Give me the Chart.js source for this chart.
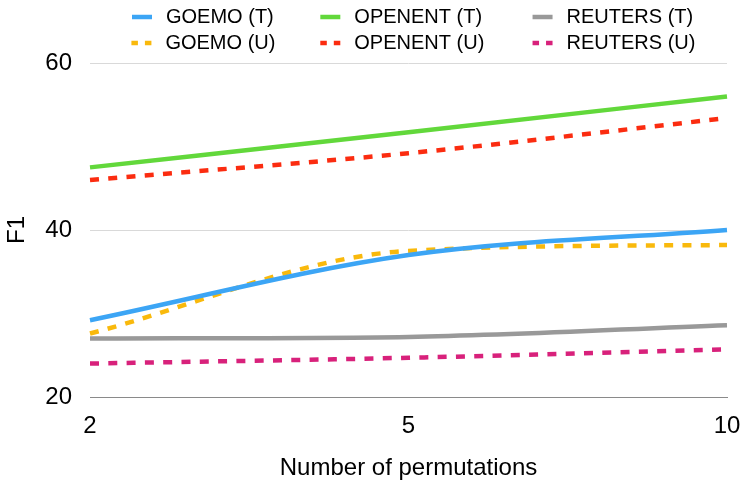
<!DOCTYPE html>
<html>
<head>
<meta charset="utf-8">
<script src="https://cdn.jsdelivr.net/npm/chart.js@4.4.0/dist/chart.umd.min.js"></script>
<style>
  html, body { margin: 0; padding: 0; background: #fff; }
  #wrap { width: 747px; height: 486px; }
</style>
</head>
<body>
<div id="wrap"><canvas id="chart" width="747" height="486"></canvas></div>
<script>
// x categories and F1 values
const permutations = ['2', '5', '10'];
const goemoT = [29.2, 37.0, 40.0];
const goemoU = [27.6, 37.5, 38.2];
const openentT = [47.5, 51.7, 56.0];
const openentU = [46.0, 49.2, 53.4];
const reutersT = [27.0, 27.2, 28.6];
const reutersU = [24.0, 24.7, 25.7];
const yTicks = [20, 40, 60];

const FONT = '"Liberation Sans", Arial, Helvetica, sans-serif';
const legendFont = { family: FONT, size: 20 };
// text width per legend column, so the items line up as three columns
const columnText = [154, 177, 159];

function padLabel(ctx, text, target) {
  const old = ctx.font;
  ctx.font = '20px ' + FONT;
  let s = '\u2009' + text;
  while (ctx.measureText(s + ' ').width <= target) s += ' ';
  while (ctx.measureText(s + '\u200A').width <= target) s += '\u200A';
  ctx.font = old;
  return s;
}

function series(label, data, color, dashed) {
  return {
    label: label,
    data: data,
    borderColor: color,
    backgroundColor: color,
    borderWidth: 4.5,
    borderDash: dashed ? [9, 9.3] : [],
    borderCapStyle: 'butt',
    pointRadius: 0,
    pointHoverRadius: 0,
    cubicInterpolationMode: 'monotone',
    fill: false
  };
}

const ctx = document.getElementById('chart').getContext('2d');
new Chart(ctx, {
  type: 'line',
  data: {
    labels: permutations,
    datasets: [
      series('GOEMO (T)', goemoT, '#3ca5f5', false),
      series('OPENENT (T)', openentT, '#62d83b', false),
      series('REUTERS (T)', reutersT, '#999999', false),
      series('GOEMO (U)', goemoU, '#f9b90c', true),
      series('OPENENT (U)', openentU, '#fb2c10', true),
      series('REUTERS (U)', reutersU, '#d8217b', true)
    ]
  },
  options: {
    responsive: false,
    animation: false,
    layout: { padding: { top: 1, right: 20, left: 0, bottom: 0 } },
    plugins: {
      tooltip: { enabled: false },
      legend: {
        position: 'top',
        align: 'end',
        fullSize: false,
        labels: {
          font: legendFont,
          color: '#000',
          padding: 6,
          usePointStyle: true,
          pointStyle: 'line',
          pointStyleWidth: 20,
          boxHeight: 4,
          generateLabels(chart) {
            return chart.data.datasets.map((ds, i) => ({
              text: padLabel(chart.ctx, ds.label, columnText[i % 3]),
              strokeStyle: ds.borderColor,
              fillStyle: ds.borderColor,
              lineWidth: 4.5,
              lineDash: ds.borderDash.length ? [6.5, 7] : [],
              lineCap: 'butt',
              pointStyle: 'line',
              fontColor: '#000',
              hidden: false,
              datasetIndex: i
            }));
          }
        }
      }
    },
    scales: {
      x: {
        type: 'category',
        grid: { display: false, drawTicks: false },
        border: { display: true, color: '#8a8a8a', width: 1 },
        ticks: { font: { family: FONT, size: 24 }, color: '#000', padding: 15, maxRotation: 0 },
        title: {
          display: true,
          text: 'Number of permutations',
          font: { family: FONT, size: 24 },
          color: '#000',
          padding: { top: 0, bottom: 3 }
        },
        afterFit(scale) {
          scale.height = 89;
          scale.paddingRight = 20;
        }
      },
      y: {
        min: yTicks[0],
        max: yTicks[yTicks.length - 1],
        afterBuildTicks(scale) {
          scale.ticks = yTicks.map(v => ({ value: v }));
        },
        grid: { color: '#d9d9d9', lineWidth: 1, drawTicks: false },
        border: { display: false },
        ticks: { font: { family: FONT, size: 24 }, color: '#000', padding: 18 },
        title: {
          display: true,
          text: 'F1',
          font: { family: FONT, size: 24 },
          color: '#000',
          padding: { top: 3, bottom: 0 }
        },
        afterFit(scale) {
          scale.width = 90;
        }
      }
    }
  }
});
</script>
</body>
</html>
